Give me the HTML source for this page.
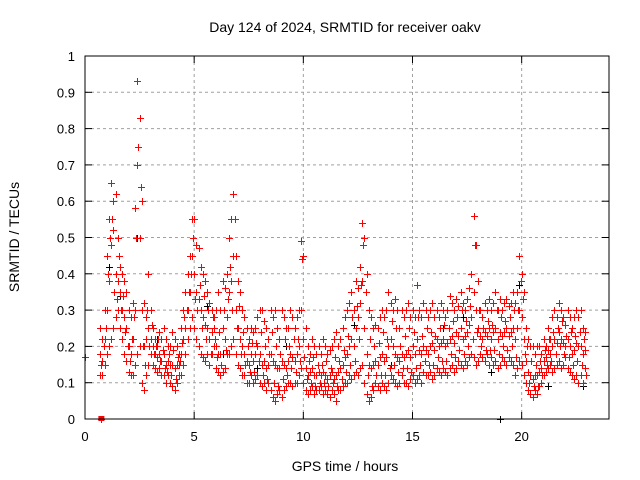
<!DOCTYPE html>
<html><head><meta charset="utf-8"><style>
html,body{margin:0;padding:0;background:#fff}
svg{display:block;font-family:"Liberation Sans",sans-serif}
</style></head><body>
<svg id="chart" width="640" height="480" viewBox="0 0 640 480">
<text x="345" y="32" font-size="14" text-anchor="middle">Day 124 of 2024, SRMTID for receiver oakv</text>
<text x="345" y="471" font-size="14" text-anchor="middle">GPS time / hours</text>
<text x="0" y="0" font-size="14" text-anchor="middle" transform="translate(19,237) rotate(-90)">SRMTID / TECUs</text>
<g id="grid"></g>
<g id="marks"></g>
<rect x="85" y="56" width="524" height="363" fill="none" stroke="#000" stroke-width="1"/>
<g id="ticks"></g>
</svg>
<script>
const xTicks=[0,5,10,15,20];
const yTicks=[0,0.1,0.2,0.3,0.4,0.5,0.6,0.7,0.8,0.9,1];
const yTickLabels=["0","0.1","0.2","0.3","0.4","0.5","0.6","0.7","0.8","0.9","1"];
const tStart=0.7, tStep=0.1;
const hi=[0.25,0.22,0.30,0.45,0.55,0.65,0.60,0.62,0.50,0.42,
0.40,0.38,0.35,0.30,0.28,0.32,0.58,0.93,0.83,0.60,
0.32,0.28,0.40,0.30,0.25,0.22,0.20,0.24,0.22,0.25,
0.22,0.20,0.20,0.24,0.22,0.20,0.18,0.25,0.30,0.35,
0.40,0.45,0.55,0.55,0.48,0.47,0.42,0.40,0.38,0.35,
0.32,0.30,0.28,0.30,0.35,0.30,0.38,0.36,0.40,0.50,
0.55,0.62,0.45,0.38,0.35,0.30,0.28,0.25,0.22,0.25,
0.24,0.25,0.28,0.30,0.30,0.27,0.25,0.22,0.30,0.28,
0.30,0.25,0.22,0.30,0.28,0.25,0.25,0.30,0.28,0.25,
0.28,0.30,0.49,0.45,0.25,0.20,0.18,0.22,0.20,0.18,
0.20,0.18,0.22,0.20,0.18,0.19,0.20,0.22,0.24,0.20,
0.22,0.25,0.28,0.30,0.32,0.35,0.30,0.38,0.36,0.42,
0.54,0.50,0.40,0.30,0.28,0.25,0.26,0.25,0.28,0.30,
0.28,0.30,0.35,0.32,0.30,0.33,0.30,0.25,0.30,0.28,
0.30,0.32,0.28,0.30,0.28,0.37,0.30,0.28,0.32,0.30,
0.28,0.30,0.32,0.28,0.30,0.28,0.32,0.30,0.28,0.30,
0.34,0.32,0.30,0.33,0.31,0.35,0.32,0.30,0.33,0.36,
0.40,0.56,0.48,0.38,0.30,0.28,0.32,0.30,0.33,0.30,
0.32,0.35,0.30,0.33,0.30,0.32,0.33,0.31,0.32,0.35,
0.32,0.35,0.45,0.40,0.35,0.25,0.22,0.20,0.20,0.18,
0.20,0.20,0.18,0.22,0.20,0.25,0.22,0.28,0.30,0.28,
0.32,0.30,0.28,0.26,0.30,0.28,0.25,0.28,0.30,0.28,
0.30,0.25,0.24];
const mid=[0.18,0.16,0.22,0.30,0.38,0.48,0.52,0.40,0.38,0.35,
0.30,0.28,0.25,0.20,0.18,0.22,0.30,0.70,0.50,0.30,
0.20,0.22,0.25,0.22,0.20,0.18,0.17,0.18,0.16,0.18,
0.15,0.16,0.15,0.15,0.14,0.15,0.15,0.18,0.22,0.25,
0.30,0.35,0.45,0.40,0.35,0.33,0.30,0.28,0.26,0.25,
0.22,0.24,0.25,0.20,0.18,0.18,0.25,0.22,0.28,0.35,
0.38,0.45,0.30,0.25,0.22,0.20,0.18,0.16,0.15,0.18,
0.16,0.18,0.20,0.18,0.15,0.16,0.14,0.15,0.18,0.16,
0.15,0.14,0.14,0.16,0.15,0.14,0.16,0.18,0.17,0.16,
0.18,0.20,0.30,0.22,0.14,0.12,0.13,0.14,0.12,0.12,
0.13,0.12,0.13,0.12,0.11,0.12,0.13,0.11,0.12,0.13,
0.14,0.15,0.17,0.18,0.20,0.22,0.20,0.25,0.28,0.32,
0.38,0.25,0.18,0.15,0.14,0.15,0.16,0.15,0.17,0.18,
0.16,0.17,0.20,0.22,0.20,0.18,0.17,0.16,0.18,0.17,
0.18,0.19,0.17,0.20,0.18,0.22,0.19,0.18,0.20,0.19,
0.18,0.20,0.21,0.19,0.22,0.20,0.21,0.22,0.20,0.21,
0.22,0.23,0.21,0.24,0.23,0.25,0.22,0.23,0.24,0.26,
0.28,0.35,0.30,0.25,0.23,0.22,0.24,0.23,0.25,0.22,
0.24,0.25,0.22,0.24,0.23,0.24,0.25,0.23,0.24,0.25,
0.22,0.25,0.30,0.28,0.22,0.16,0.13,0.12,0.11,0.12,
0.12,0.13,0.14,0.16,0.17,0.19,0.18,0.20,0.22,0.21,
0.24,0.22,0.21,0.20,0.22,0.20,0.18,0.19,0.21,0.20,
0.20,0.18,0.19];
const lo=[0.12,0.12,0.15,0.18,0.20,0.22,0.25,0.28,0.30,0.25,
0.22,0.18,0.16,0.13,0.12,0.12,0.15,0.18,0.20,0.10,
0.08,0.12,0.15,0.18,0.15,0.14,0.13,0.14,0.12,0.12,
0.10,0.12,0.10,0.09,0.08,0.10,0.12,0.12,0.15,0.18,
0.22,0.25,0.28,0.25,0.22,0.20,0.18,0.17,0.16,0.18,
0.15,0.18,0.20,0.14,0.13,0.12,0.13,0.14,0.18,0.18,
0.20,0.22,0.18,0.15,0.14,0.12,0.12,0.10,0.10,0.12,
0.10,0.11,0.12,0.10,0.09,0.10,0.08,0.10,0.08,0.06,
0.05,0.07,0.08,0.06,0.08,0.09,0.10,0.10,0.09,0.10,
0.10,0.12,0.14,0.10,0.08,0.07,0.08,0.09,0.07,0.08,
0.08,0.09,0.07,0.08,0.07,0.06,0.08,0.07,0.05,0.08,
0.08,0.09,0.10,0.10,0.12,0.11,0.12,0.13,0.12,0.14,
0.15,0.10,0.07,0.05,0.06,0.08,0.10,0.09,0.08,0.10,
0.09,0.08,0.10,0.12,0.11,0.10,0.09,0.10,0.12,0.10,
0.10,0.09,0.11,0.12,0.10,0.11,0.12,0.10,0.13,0.12,
0.12,0.13,0.11,0.12,0.14,0.13,0.12,0.14,0.13,0.12,
0.14,0.15,0.13,0.14,0.16,0.15,0.14,0.16,0.15,0.17,
0.18,0.17,0.15,0.16,0.18,0.17,0.16,0.18,0.15,0.17,
0.15,0.16,0.14,0.15,0.17,0.16,0.15,0.17,0.16,0.15,
0.12,0.14,0.16,0.15,0.12,0.10,0.08,0.07,0.06,0.08,
0.07,0.09,0.10,0.12,0.13,0.14,0.15,0.13,0.14,0.15,
0.16,0.14,0.15,0.17,0.14,0.13,0.12,0.11,0.12,0.10,
0.12,0.10,0.14];
const q1=[0.15,0.20,0.25,0.40,0.50,0.55,0.35,0.33,0.45,0.30,
0.34,0.24,0.20,0.16,0.22,0.28,0.50,0.75,0.64,0.20,
0.15,0.30,0.20,0.26,0.18,0.20,0.22,0.16,0.19,0.14,
0.13,0.18,0.12,0.19,0.11,0.17,0.16,0.21,0.28,0.30,
0.35,0.40,0.50,0.33,0.30,0.37,0.25,0.34,0.22,0.30,
0.18,0.28,0.22,0.17,0.24,0.15,0.30,0.19,0.33,0.42,
0.30,0.55,0.25,0.31,0.18,0.24,0.15,0.20,0.13,0.21,
0.13,0.21,0.16,0.24,0.12,0.20,0.11,0.18,0.24,0.10,
0.20,0.09,0.18,0.11,0.22,0.12,0.20,0.14,0.22,0.13,
0.22,0.16,0.44,0.17,0.11,0.16,0.10,0.17,0.09,0.15,
0.10,0.15,0.10,0.16,0.09,0.14,0.10,0.17,0.09,0.16,
0.11,0.19,0.13,0.23,0.15,0.28,0.16,0.31,0.22,0.37,
0.48,0.35,0.12,0.22,0.09,0.20,0.12,0.21,0.12,0.24,
0.12,0.22,0.14,0.27,0.15,0.25,0.13,0.20,0.14,0.23,
0.14,0.25,0.13,0.24,0.14,0.28,0.15,0.23,0.16,0.25,
0.15,0.24,0.15,0.23,0.17,0.25,0.16,0.26,0.16,0.25,
0.18,0.27,0.17,0.28,0.19,0.30,0.18,0.27,0.20,0.31,
0.22,0.48,0.24,0.30,0.20,0.25,0.19,0.27,0.19,0.26,
0.19,0.30,0.18,0.28,0.20,0.27,0.19,0.28,0.20,0.30,
0.17,0.30,0.38,0.33,0.18,0.20,0.10,0.16,0.09,0.15,
0.09,0.16,0.12,0.19,0.15,0.22,0.16,0.24,0.18,0.25,
0.20,0.27,0.18,0.23,0.17,0.24,0.15,0.23,0.16,0.24,
0.15,0.22,0.12];
const extraT=[0.0,0.75];
const extraV=[0.17,0.0];
const blackT=[1.1,1.6,2.4,3.3,5.6,6.3,7.9,9.2,12.3,14.0,16.4,17.3,18.6,19.0,19.9,21.2,22.8];
const blackV=[0.42,0.34,0.50,0.22,0.31,0.18,0.14,0.20,0.26,0.15,0.25,0.28,0.13,0.0,0.37,0.09,0.09];

const X0=85,X1=609,Y0=419,Y1=56,XMAX=24;
const xs=t=>X0+(X1-X0)*t/XMAX;
const ys=v=>Y0-(Y0-Y1)*v;
const NS="http://www.w3.org/2000/svg";
const grid=document.getElementById('grid'),ticks=document.getElementById('ticks'),marks=document.getElementById('marks');
function mk(tag,attrs,parent){const e=document.createElementNS(NS,tag);for(const k in attrs)e.setAttribute(k,attrs[k]);parent.appendChild(e);return e;}
yTicks.forEach((v,i)=>{
  const y=ys(v);
  if(i>0&&i<yTicks.length-1){const g=mk('line',{x1:X0,x2:X1,y1:y,y2:y,stroke:'#a0a0a0','stroke-dasharray':'3,3'},grid);
  
  }
  mk('line',{x1:X0,x2:X0+7,y1:y,y2:y,stroke:'#000'},ticks);
  mk('line',{x1:X1,x2:X1-7,y1:y,y2:y,stroke:'#000'},ticks);
  const t=mk('text',{x:X0-10,y:y+5,'font-size':13,'text-anchor':'end'},ticks);
  t.textContent=yTickLabels[i];
  
  
});
xTicks.forEach(v=>{
  const x=xs(v);
  if(v>0){const g=mk('line',{x1:x,x2:x,y1:Y1,y2:Y0,stroke:'#a0a0a0','stroke-dasharray':'3,3'},grid);
  
  }
  mk('line',{x1:x,x2:x,y1:Y0,y2:Y0-7,stroke:'#000'},ticks);
  mk('line',{x1:x,x2:x,y1:Y1,y2:Y1+7,stroke:'#000'},ticks);
  const t=mk('text',{x:x,y:Y0+22,'font-size':13,'text-anchor':'middle'},ticks);
  t.textContent=String(v);
  
  
});
function cross(t,v,color,name){
  const x=Math.round(xs(t)),y=Math.round(ys(v));
  const p=mk('path',{d:`M${x-3},${y}h7v1h-7zM${x},${y-3}h1v7h-1z`,fill:color},marks);
  
  
}
blackT.forEach((t,i)=>cross(t,blackV[i],'#000','point-black'));
[hi,mid,lo].forEach(arr=>arr.forEach((v,i)=>cross(tStart+i*tStep,v,'#ff0000','point-srmtid')));
q1.forEach((v,i)=>cross(tStart+0.05+i*tStep,v,'#ff0000','point-srmtid'));
extraT.forEach((t,i)=>cross(t,extraV[i],'#ff0000','point-srmtid'));
const sq=mk('rect',{x:xs(0.75)-3,y:Y0-3,width:6,height:5,fill:'#ff0000'},marks);


</script>
</body></html>
